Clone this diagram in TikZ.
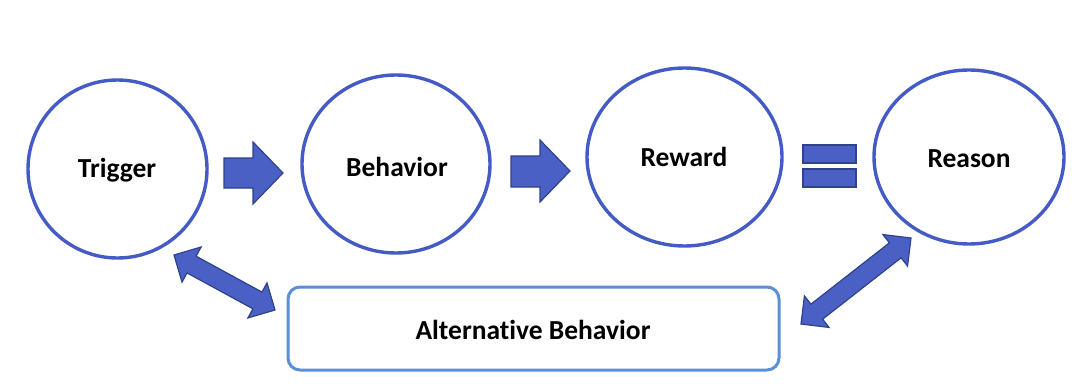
\documentclass[tikz,border=0pt]{standalone}
\usepackage{fontspec}
\setmainfont{Carlito}[Ligatures={NoCommon}]
\usetikzlibrary{shapes.geometric,calc}
\definecolor{circblue}{RGB}{68,90,196}
\definecolor{arrfill}{RGB}{74,96,196}
\definecolor{arrline}{RGB}{47,66,140}
\definecolor{rectblue}{RGB}{91,143,214}
\tikzset{
  bubble/.style={ellipse, draw=circblue, line width=3.4pt, inner sep=0pt},
  label/.style={font=\fontsize{27.5}{32}\selectfont\bfseries},
  altbox/.style={draw=rectblue, line width=3pt, rounded corners=12pt},
  blockarrow/.style={fill=arrfill, draw=arrline, line width=1.2pt, line join=miter}
}
\begin{document}
\begin{tikzpicture}[x=1pt,y=-1pt]
\useasboundingbox (0,0) rectangle (1085,388);
% circles
\node[bubble, minimum width=179pt, minimum height=178pt] (trigger) at (117.5,169) {};
\node[bubble, minimum width=188pt, minimum height=178pt] (behavior) at (396,164) {};
\node[bubble, minimum width=195pt, minimum height=178pt] (reward) at (684.5,157) {};
\node[bubble, minimum width=190pt, minimum height=174pt] (reason) at (969,157) {};
\node[label] (ttrig) at (117,170) {Trigger};
\node[label] (tbeh) at (397,167) {Behavior};
\node[label] (trew) at (684,157) {Reward};
\node[label] (trea) at (969,159) {Reason};
% alternative box
\draw[altbox] (288,287) rectangle (779,370);
\node[label] (alt) at (533,330) {Alternative Behavior};
% right arrows
\draw[blockarrow] (224,158) -- (253,158) -- (253,142) -- (283,173) -- (253,204) -- (253,188) -- (224,188) -- cycle;
\draw[blockarrow] (511,156) -- (540,156) -- (540,140) -- (570,171) -- (540,202) -- (540,187) -- (511,187) -- cycle;
% equal sign
\draw[blockarrow] (803,145) rectangle (856,163);
\draw[blockarrow] (803,169) rectangle (856,187);
% double arrows
\foreach \ax/\ay/\bx/\by in {174/255/275/310, 801/324/911/238}{
  \coordinate (A) at (\ax,\ay);
  \coordinate (B) at (\bx,\by);
  \coordinate (h1) at ($(A)!20pt!(B)$);
  \coordinate (h2) at ($(B)!20pt!(A)$);
  \draw[blockarrow] (A) -- ($(h1)!20pt!90:(B)$) -- ($(h1)!9.5pt!90:(B)$)
    -- ($(h2)!9.5pt!-90:(A)$) -- ($(h2)!20pt!-90:(A)$) -- (B)
    -- ($(h2)!20pt!90:(A)$) -- ($(h2)!9.5pt!90:(A)$)
    -- ($(h1)!9.5pt!-90:(B)$) -- ($(h1)!20pt!-90:(B)$) -- cycle;
}
\end{tikzpicture}
\end{document}
